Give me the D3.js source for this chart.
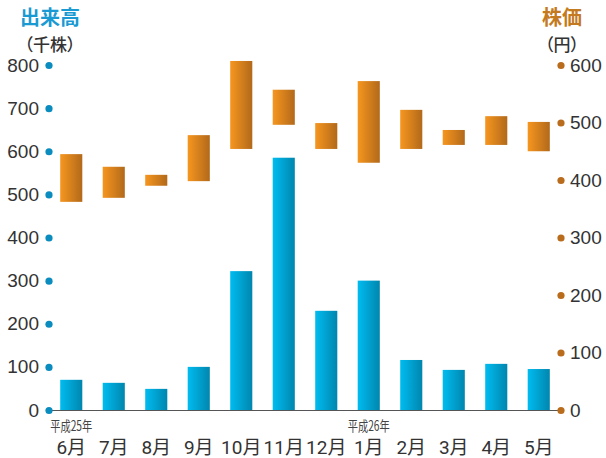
<!DOCTYPE html>
<html>
<head>
<meta charset="utf-8">
<script src="https://cdn.jsdelivr.net/npm/d3@7"></script>
<style>
  body { margin: 0; background: #fff; }
  svg { display: block; font-family: Roboto, "Noto Sans CJK JP", sans-serif; }
  .jp { font-family: "Noto Sans CJK JP", sans-serif; font-feature-settings: "palt"; }
</style>
</head>
<body>
<script>
// data
var months = ["6月", "7月", "8月", "9月", "10月", "11月", "12月", "1月", "2月", "3月", "4月", "5月"];
var eraLabels = [["6月", "平成25年"], ["1月", "平成26年"]];
var volume = [70, 63, 49, 100, 322, 585, 230, 300, 116, 93, 107, 95];   // 千株
var priceLow = [362, 369, 390, 398, 454, 496, 454, 430, 454, 461, 461, 450];  // 円
var priceHigh = [445, 423, 409, 478, 607, 557, 499, 572, 522, 487, 511, 501];
var volTicks = [0, 100, 200, 300, 400, 500, 600, 700, 800];
var priceTicks = [0, 100, 200, 300, 400, 500, 600];

var W = 606, H = 458;

var svg = d3.select("body").append("svg")
    .attr("width", W)
    .attr("height", H);

var defs = svg.append("defs");
var gBlue = defs.append("linearGradient").attr("id", "gBlue");
gBlue.append("stop").attr("offset", "0%").attr("stop-color", "#00bcf0");
gBlue.append("stop").attr("offset", "100%").attr("stop-color", "#0086ae");
var gOrange = defs.append("linearGradient").attr("id", "gOrange");
gOrange.append("stop").attr("offset", "0%").attr("stop-color", "#f6961f");
gOrange.append("stop").attr("offset", "100%").attr("stop-color", "#b2691a");

var x = d3.scaleBand()
    .domain(months)
    .range([50, 560])
    .paddingInner(0.48)
    .paddingOuter(0.24);

var yL = d3.scaleLinear().domain([0, 800]).range([410, 65]);
var yR = d3.scaleLinear().domain([0, 600]).range([410, 65]);

// price bars (low - high)
svg.selectAll(".price")
    .data(months)
    .enter()
    .append("rect")
    .attr("class", "price")
    .attr("x", function (d) { return x(d); })
    .attr("width", x.bandwidth())
    .attr("y", function (d, i) { return yR(priceHigh[i]); })
    .attr("height", function (d, i) { return yR(priceLow[i]) - yR(priceHigh[i]); })
    .attr("fill", "url(#gOrange)");

// volume bars
svg.selectAll(".vol")
    .data(months)
    .enter()
    .append("rect")
    .attr("class", "vol")
    .attr("x", function (d) { return x(d); })
    .attr("width", x.bandwidth())
    .attr("y", function (d, i) { return yL(volume[i]); })
    .attr("height", function (d, i) { return yL(0) - yL(volume[i]); })
    .attr("fill", "url(#gBlue)");

// bottom axis
var xAxis = d3.axisBottom(x).tickSize(0).tickSizeOuter(0).tickPadding(31);
var xg = svg.append("g")
    .attr("transform", "translate(0," + yL(0) + ")")
    .call(xAxis);
xg.select(".domain").attr("stroke", "#555").attr("stroke-width", 1.2);
xg.selectAll("text")
    .attr("font-size", 19)
    .attr("fill", "#333")
    .style("font-family", "Roboto, 'Noto Sans CJK JP', sans-serif");

// era labels
svg.selectAll(".era")
    .data(eraLabels)
    .enter()
    .append("text")
    .attr("class", "era jp")
    .attr("x", function (d) { return x(d[0]) + x.bandwidth() / 2; })
    .attr("y", 431)
    .attr("text-anchor", "middle")
    .attr("font-size", 14)
    .attr("textLength", 42)
    .attr("lengthAdjust", "spacingAndGlyphs")
    .attr("fill", "#444")
    .text(function (d) { return d[1]; });

// left axis
var yAxisL = d3.axisLeft(yL).tickValues(volTicks).tickSize(0).tickPadding(10);
var lg = svg.append("g")
    .attr("transform", "translate(49,0)")
    .call(yAxisL);
lg.select(".domain").remove();
lg.selectAll("text").attr("font-size", 19).attr("fill", "#333");
lg.selectAll(".tick").append("circle").attr("r", 3.6).attr("fill", "#0a8cbe");

// right axis
var yAxisR = d3.axisRight(yR).tickValues(priceTicks).tickSize(0).tickPadding(9);
var rg = svg.append("g")
    .attr("transform", "translate(561,0)")
    .call(yAxisR);
rg.select(".domain").remove();
rg.selectAll("text").attr("font-size", 19).attr("fill", "#333");
rg.selectAll(".tick").append("circle").attr("r", 3.6).attr("fill", "#b86c1c");

// axis titles
svg.append("text")
    .attr("class", "jp")
    .attr("x", 50).attr("y", 25)
    .attr("text-anchor", "middle")
    .attr("font-size", 20).attr("font-weight", "bold")
    .attr("fill", "#1a9ad2")
    .text("出来高");
svg.append("text")
    .attr("class", "jp")
    .attr("x", 50).attr("y", 51)
    .attr("text-anchor", "middle")
    .attr("font-size", 17).attr("font-weight", 500)
    .attr("fill", "#333")
    .text("（千株）");
svg.append("text")
    .attr("class", "jp")
    .attr("x", 562).attr("y", 25)
    .attr("text-anchor", "middle")
    .attr("font-size", 20).attr("font-weight", "bold")
    .attr("fill", "#c47a20")
    .text("株価");
svg.append("text")
    .attr("class", "jp")
    .attr("x", 562).attr("y", 51)
    .attr("text-anchor", "middle")
    .attr("font-size", 17).attr("font-weight", 500)
    .attr("fill", "#333")
    .text("（円）");
</script>
</body>
</html>
